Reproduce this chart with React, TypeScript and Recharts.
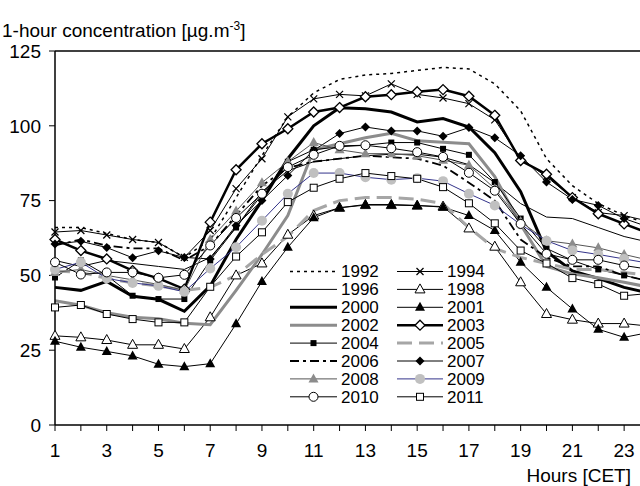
import { LineChart, Line, XAxis, YAxis, ReferenceLine, Legend } from "recharts";

const hours = [1, 2, 3, 4, 5, 6, 7, 8, 9, 10, 11, 12, 13, 14, 15, 16, 17, 18, 19, 20, 21, 22, 23, 24];
const yTicks = [0, 25, 50, 75, 100, 125];

// hourly means
const y1992 = [66, 66, 64, 62, 61, 56, 62, 76, 90, 103, 111, 115.5, 117, 117.5, 118.5, 119.5, 119, 114, 105, 89, 80, 74, 70, 67];
const y1994 = [64.5, 65, 63.5, 62, 61, 56, 65, 79, 89, 103, 109, 110.5, 110, 114, 110.5, 109.3, 107.4, 102, 89, 83, 76, 71, 70, 68];
const y1996 = [55, 53, 55, 54, 53, 52, 56, 66, 78, 85, 88, 89, 90, 90.5, 90.5, 89.5, 87, 81, 74, 69.5, 69, 66, 63, 61];
const y1998 = [29.8, 29.3, 28.4, 26.8, 26.8, 25.4, 36, 50, 54, 63.6, 70, 72.6, 73.5, 73.5, 73.3, 73, 65.7, 59.6, 47.7, 37.1, 35.2, 33.9, 33.9, 33];
const y2000 = [46, 45, 48, 43, 42, 38, 46.5, 62, 75, 89, 100, 106, 105.7, 104.6, 101.3, 102.4, 99.6, 91, 78, 58, 51.5, 49, 46, 44];
const y2001 = [28, 26, 24.6, 23.1, 20.3, 19.5, 20.5, 33.8, 48, 59.4, 69.3, 72.6, 73.7, 73.7, 73.4, 72.8, 70, 65, 54.4, 46, 38.8, 32, 29.3, 31];
const y2002 = [41.5, 40, 37.5, 36, 35.5, 34, 33.5, 45, 57, 70, 92, 94, 96, 97.5, 95, 94.5, 94, 83, 67, 53, 50.5, 49.2, 47.7, 46];
const y2003 = [62, 58.3, 55.5, 51.6, 49, 45.4, 67.8, 85.3, 94, 99, 104.6, 106.1, 109.7, 110.4, 111.4, 112.1, 109.9, 103.5, 88.4, 83.8, 76, 70.6, 67.2, 64];
const y2004 = [49.3, 55, 50, 43.2, 42.1, 42.1, 55, 66, 77, 88, 92, 93, 93.5, 94.4, 94.4, 92.3, 90.3, 81.2, 69, 59, 55, 52, 50, 48];
const y2005 = [51.5, 51, 49, 47.5, 46.5, 45, 46, 50, 57, 63, 71.7, 75, 76, 76, 75.5, 74, 66, 59, 56, 54, 52, 52, 51, 50];
const y2006 = [60, 62, 60, 59, 59, 55, 60, 70, 80, 86, 88, 89, 90, 89.5, 89, 86.7, 81, 75, 62, 56, 53, 53, 50, 48];
const y2007 = [60.5, 61.4, 59.3, 55.9, 58.2, 56, 55.5, 66.7, 75, 83.4, 91.8, 97.4, 99.6, 98.3, 98.3, 96.5, 99.4, 96, 90, 81.2, 75.4, 73.4, 69, 66];
const y2008 = [51, 52, 50, 48.5, 47, 45, 62, 71.5, 81, 88, 94.4, 92, 90.7, 90.7, 90, 88.5, 86.8, 79, 68, 61.6, 60.5, 59.2, 57, 55];
const y2009 = [52, 54.4, 49, 47.5, 46.5, 44.5, 52.3, 59.4, 68.3, 77.3, 84.2, 84.2, 82.8, 82, 82.5, 81.5, 77.3, 73.4, 67, 61.6, 58.3, 57, 55.5, 54];
const y2010 = [54.4, 50.3, 51, 51, 49.2, 50.2, 60, 69.2, 77.3, 86.2, 90.3, 93.3, 93.5, 92.5, 91.2, 89.6, 84.3, 78.3, 67.2, 57.2, 55.2, 55.2, 53.3, 52];
const y2011 = [39.3, 40.1, 37.1, 35.4, 34.3, 34.3, 46.2, 56.3, 64.4, 74.5, 79.3, 82.3, 84.2, 83.2, 82.3, 79.5, 74.1, 67.4, 58.3, 54, 49.1, 47.1, 43.2, 44];

type Marker = "none" | "cross" | "triOpen" | "triFill" | "diaOpen" | "sqFill" | "diaFill" | "triGray" | "circGray" | "circOpen" | "sqOpen";

const series: { name: string; values: number[]; stroke: string; width: number; dash?: string; marker: Marker }[] = [
  { name: "1992", values: y1992, stroke: "#000", width: 1.5, dash: "3 4", marker: "none" },
  { name: "1994", values: y1994, stroke: "#000", width: 1, marker: "cross" },
  { name: "1996", values: y1996, stroke: "#000", width: 1, marker: "none" },
  { name: "1998", values: y1998, stroke: "#000", width: 1, marker: "triOpen" },
  { name: "2000", values: y2000, stroke: "#000", width: 3, marker: "none" },
  { name: "2001", values: y2001, stroke: "#000", width: 1, marker: "triFill" },
  { name: "2002", values: y2002, stroke: "#8c8c8c", width: 3, marker: "none" },
  { name: "2003", values: y2003, stroke: "#000", width: 2.5, marker: "diaOpen" },
  { name: "2004", values: y2004, stroke: "#000", width: 1, marker: "sqFill" },
  { name: "2005", values: y2005, stroke: "#a6a6a6", width: 3, dash: "15 7", marker: "none" },
  { name: "2006", values: y2006, stroke: "#000", width: 1.8, dash: "9 4 3 4", marker: "none" },
  { name: "2007", values: y2007, stroke: "#000", width: 1, marker: "diaFill" },
  { name: "2008", values: y2008, stroke: "#555", width: 1, marker: "triGray" },
  { name: "2009", values: y2009, stroke: "#33338a", width: 1, marker: "circGray" },
  { name: "2010", values: y2010, stroke: "#000", width: 1, marker: "circOpen" },
  { name: "2011", values: y2011, stroke: "#000", width: 1, marker: "sqOpen" },
];

const data = hours.map((hour, i) => {
  const row: Record<string, number> = { hour };
  series.forEach((s) => {
    row["y" + s.name] = s.values[i];
  });
  return row;
});

const font = "'Liberation Sans', Arial, sans-serif";

const drawMarker = (kind: Marker, cx: number, cy: number, key?: string) => {
  switch (kind) {
    case "cross":
      return (
        <g key={key}>
          <line x1={cx - 3.5} y1={cy - 3.5} x2={cx + 3.5} y2={cy + 3.5} stroke="#000" strokeWidth={1.2} />
          <line x1={cx - 3.5} y1={cy + 3.5} x2={cx + 3.5} y2={cy - 3.5} stroke="#000" strokeWidth={1.2} />
        </g>
      );
    case "triOpen":
      return <polygon key={key} points={`${cx},${cy - 5.5} ${cx + 5},${cy + 3.5} ${cx - 5},${cy + 3.5}`} fill="#fff" stroke="#000" strokeWidth={1} />;
    case "triFill":
      return <polygon key={key} points={`${cx},${cy - 5.5} ${cx + 5},${cy + 3.5} ${cx - 5},${cy + 3.5}`} fill="#000" />;
    case "triGray":
      return <polygon key={key} points={`${cx},${cy - 5.5} ${cx + 5},${cy + 3.5} ${cx - 5},${cy + 3.5}`} fill="#8c8c8c" />;
    case "diaOpen":
      return <polygon key={key} points={`${cx},${cy - 5} ${cx + 5},${cy} ${cx},${cy + 5} ${cx - 5},${cy}`} fill="#fff" stroke="#000" strokeWidth={1.3} />;
    case "diaFill":
      return <polygon key={key} points={`${cx},${cy - 4.5} ${cx + 4.5},${cy} ${cx},${cy + 4.5} ${cx - 4.5},${cy}`} fill="#000" />;
    case "sqFill":
      return <rect key={key} x={cx - 3} y={cy - 3} width={6} height={6} fill="#000" />;
    case "sqOpen":
      return <rect key={key} x={cx - 3.5} y={cy - 3.5} width={7} height={7} fill="#fff" stroke="#000" strokeWidth={1} />;
    case "circGray":
      return <circle key={key} cx={cx} cy={cy} r={5} fill="#c0c0c0" />;
    case "circOpen":
      return <circle key={key} cx={cx} cy={cy} r={4.5} fill="#fff" stroke="#000" strokeWidth={1} />;
    default:
      return <g key={key} />;
  }
};

const dotFor = (kind: Marker, name: string) => {
  if (kind === "none") return false;
  return (p: any) => {
    if (p.cx == null || p.cy == null) return <g key={`${name}-${p.index}`} />;
    return drawMarker(kind, p.cx, p.cy, `${name}-${p.index}`);
  };
};

const LegendBox = () => (
  <svg width={210} height={150} style={{ display: "block" }}>
    {series.map((s, i) => {
      const col = i % 2;
      const row = Math.floor(i / 2);
      const y = 9.5 + row * 17.9;
      const x0 = col === 0 ? 5 : 112;
      const x1 = col === 0 ? 52 : 158;
      return (
        <g key={s.name}>
          <line x1={x0} y1={y} x2={x1} y2={y} stroke={s.stroke} strokeWidth={s.width} strokeDasharray={s.dash} />
          {drawMarker(s.marker, (x0 + x1) / 2, y)}
          <text x={x1 + 4} y={y} dy="0.35em" fontSize={17} fontFamily={font} fill="#000">
            {s.name}
          </text>
        </g>
      );
    })}
  </svg>
);

const YTitle = () => (
  <text x={2} y={37} fontSize={19} fontFamily={font} fill="#000">
    1-hour concentration [µg.m
    <tspan dy={-7} fontSize={12}>-3</tspan>
    <tspan dy={7}>]</tspan>
  </text>
);

const XTitle = () => (
  <text x={631} y={482} textAnchor="end" fontSize={19} fontFamily={font} fill="#000">
    Hours [CET]
  </text>
);

export default function App() {
  return (
    <div style={{ position: "fixed", left: 0, top: 0, width: 640, height: 486, overflow: "hidden", background: "#fff" }}>
      <LineChart width={680} height={486} data={data} margin={{ top: 51, right: 30, bottom: 0, left: 0 }}>
        <ReferenceLine y={125} stroke="#000" strokeWidth={1.5} />
        <XAxis
          dataKey="hour"
          type="number"
          domain={[1, 24]}
          ticks={hours}
          interval={0}
          height={61}
          tickFormatter={(h: number) => (h % 2 === 1 ? String(h) : "")}
          axisLine={{ stroke: "#000", strokeWidth: 1.5 }}
          tickLine={{ stroke: "#000" }}
          tickSize={6}
          tickMargin={13}
          tick={{ fill: "#000", fontSize: 19, fontFamily: font }}
          label={<XTitle />}
        />
        <YAxis
          domain={[0, 125]}
          ticks={yTicks}
          width={55}
          interval={0}
          axisLine={{ stroke: "#000", strokeWidth: 1.5 }}
          tickLine={{ stroke: "#000" }}
          tickSize={6}
          tickMargin={8}
          tick={{ fill: "#000", fontSize: 19, fontFamily: font }}
          label={<YTitle />}
        />
        {series.map((s) => (
          <Line
            key={s.name}
            type="linear"
            dataKey={"y" + s.name}
            name={s.name}
            stroke={s.stroke}
            strokeWidth={s.width}
            strokeDasharray={s.dash}
            dot={dotFor(s.marker, s.name)}
            activeDot={false}
            isAnimationActive={false}
          />
        ))}
        <Legend
          layout="vertical"
          align="center"
          verticalAlign="middle"
          wrapperStyle={{ left: 285, top: 262, width: 210, height: 150 }}
          content={() => <LegendBox />}
        />
      </LineChart>
    </div>
  );
}
